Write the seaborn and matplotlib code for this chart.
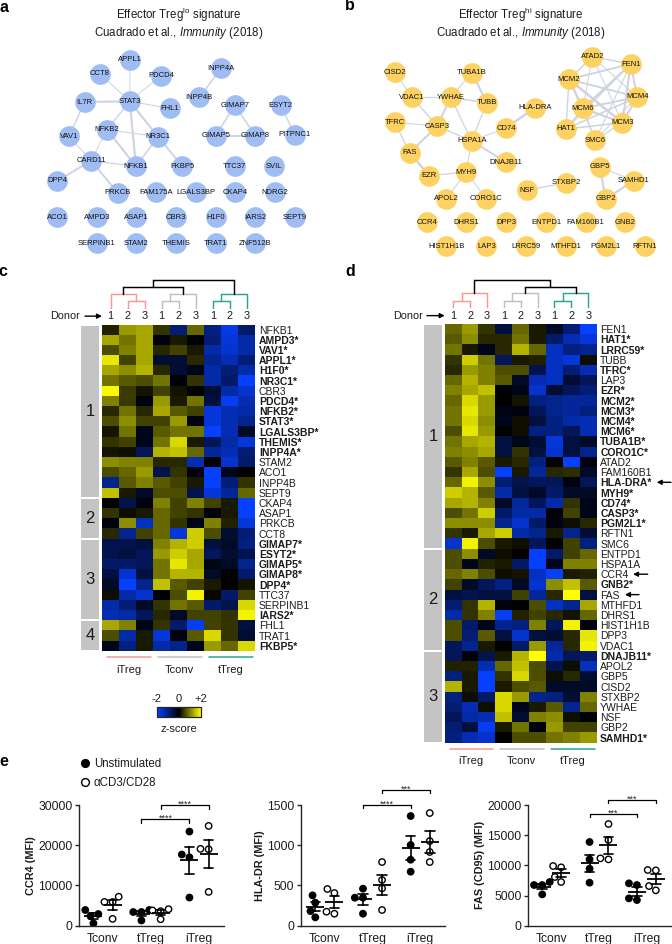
import numpy as np
import pandas as pd
import matplotlib
matplotlib.use("Agg")
import matplotlib.pyplot as plt
import seaborn as sns
from matplotlib.colors import LinearSegmentedColormap
from matplotlib.lines import Line2D

W, H = 672, 944

# panel a network
a_genes = ["APPL1", "CCT8", "PDCD4", "STAT3", "IL7R", "FHL1", "INPP4A", "INPP4B", "GIMAP7", "ESYT2",
           "VAV1", "NFKB2", "NR3C1", "GIMAP5", "GIMAP8", "PITPNC1", "CARD11", "NFKB1", "FKBP5", "TTC37",
           "SVIL", "DPP4", "PRKCB", "FAM175A", "LGALS3BP", "CKAP4", "NDRG2", "ACO1", "AMPD3", "ASAP1",
           "CBR3", "H1F0", "IARS2", "SEPT9", "SERPINB1", "STAM2", "THEMIS", "TRAT1", "ZNF512B"]
a_x = [130, 99.7, 161, 129.7, 84.7, 169.7, 221.3, 199.3, 234.7, 280.7,
       69, 107, 158, 215.7, 255.3, 294.7, 91, 136, 182.3, 234.7,
       274.3, 57.3, 117.7, 156, 195.7, 235.3, 275, 57.3, 96.7, 136.3,
       176, 215.7, 255.3, 295, 96.7, 136.3, 176, 215.7, 255.3]
a_y = [59.5, 73.7, 75.7, 101.3, 102, 108.3, 68.3, 97.3, 105.3, 105.3,
       136, 129.7, 136.7, 135.7, 135.7, 134.7, 160.7, 166.3, 166.3, 166.3,
       166.3, 181, 192.7, 192.3, 192.3, 192.3, 192.3, 217.3, 217.3, 217.3,
       217.3, 217.3, 217.3, 217.3, 243.3, 243.3, 243.3, 243.3, 243.3]
a_edges = [("STAT3", "APPL1", 1), ("STAT3", "CCT8", 1), ("STAT3", "PDCD4", 1), ("STAT3", "IL7R", 2),
           ("STAT3", "FHL1", 1), ("STAT3", "NFKB2", 1.3), ("STAT3", "NFKB1", 2), ("STAT3", "NR3C1", 2),
           ("IL7R", "VAV1", 1.3), ("VAV1", "CARD11", 1), ("NFKB2", "NFKB1", 2), ("NFKB2", "CARD11", 1),
           ("NFKB2", "NR3C1", 1), ("NR3C1", "NFKB1", 1.5), ("NR3C1", "FKBP5", 1.8), ("CARD11", "NFKB1", 1.2),
           ("CARD11", "DPP4", 1.8), ("CARD11", "PRKCB", 1.8), ("INPP4A", "INPP4B", 1.5), ("GIMAP7", "GIMAP5", 1.5),
           ("GIMAP7", "GIMAP8", 1.5), ("GIMAP5", "GIMAP8", 1.8), ("ESYT2", "PITPNC1", 1.3)]

# panel b network
b_genes = ["CISD2", "TUBA1B", "ATAD2", "FEN1", "MCM2", "VDAC1", "YWHAE", "TUBB", "HLA-DRA", "MCM4",
           "MCM6", "TFRC", "CASP3", "CD74", "HAT1", "MCM3", "HSPA1A", "SMC6", "FAS", "DNAJB11",
           "GBP5", "EZR", "MYH9", "SAMHD1", "NSF", "STXBP2", "GBP2", "APOL2", "CORO1C", "CCR4",
           "DHRS1", "DPP3", "ENTPD1", "FAM160B1", "GNB2", "HIST1H1B", "LAP3", "LRRC59", "MTHFD1", "PGM2L1",
           "RFTN1"]
b_x = [395, 472, 592.3, 630.7, 569, 412, 450.7, 486.7, 535, 637.3,
       583, 394.7, 437.3, 506, 566, 622.3, 471.7, 595.3, 409.7, 506,
       599.7, 429.3, 466.3, 633.7, 526.7, 566, 605.7, 446.3, 486.3, 426.7,
       466.3, 506, 546, 585.7, 625.3, 446.3, 486.3, 526, 565.7, 605.7,
       645]
b_y = [72, 72.7, 56.7, 64, 79.3, 97.3, 97.3, 102.7, 107.7, 97,
       108.3, 122.3, 126, 128, 129, 122.7, 141, 140, 152.7, 162,
       166.7, 175.7, 172, 180.7, 190, 183, 199, 199, 199, 222.3,
       222.3, 222.3, 222.3, 222.3, 222.3, 246.3, 246.3, 246.3, 246.3, 246.3,
       246.3]
b_edges = [("CISD2", "VDAC1", 1), ("VDAC1", "YWHAE", 1.2), ("VDAC1", "CASP3", 1.3), ("YWHAE", "TUBA1B", 1),
           ("YWHAE", "TUBB", 1.5), ("TUBA1B", "TUBB", 2), ("YWHAE", "CASP3", 2), ("YWHAE", "HSPA1A", 1.2),
           ("TUBB", "HSPA1A", 1.2), ("TFRC", "CASP3", 1), ("CASP3", "FAS", 2), ("CASP3", "HSPA1A", 1.3),
           ("HSPA1A", "CD74", 1), ("CD74", "HLA-DRA", 2.2), ("HSPA1A", "DNAJB11", 1.8), ("HSPA1A", "MYH9", 1),
           ("FAS", "EZR", 2.2), ("EZR", "MYH9", 1.2), ("MYH9", "APOL2", 1), ("MYH9", "CORO1C", 1),
           ("FAS", "TFRC", 1.2), ("NSF", "STXBP2", 1.3), ("GBP5", "GBP2", 2), ("GBP5", "SAMHD1", 1),
           ("GBP2", "SAMHD1", 2), ("MCM2", "FEN1", 1.8), ("MCM2", "ATAD2", 1.3), ("ATAD2", "FEN1", 1.3),
           ("MCM2", "MCM4", 1.8), ("MCM2", "MCM3", 2.4), ("MCM2", "MCM6", 2), ("MCM2", "HAT1", 1.3),
           ("MCM2", "SMC6", 1), ("FEN1", "MCM4", 1.8), ("FEN1", "MCM3", 2), ("FEN1", "MCM6", 2),
           ("FEN1", "HAT1", 1.3), ("ATAD2", "MCM4", 1), ("ATAD2", "MCM3", 1), ("ATAD2", "MCM6", 1),
           ("MCM4", "MCM3", 2), ("MCM4", "MCM6", 1.8), ("MCM4", "HAT1", 1.5), ("MCM3", "MCM6", 2),
           ("MCM3", "HAT1", 1.5), ("MCM3", "SMC6", 1.2), ("MCM6", "HAT1", 1.3), ("MCM6", "SMC6", 1),
           ("MCM4", "SMC6", 1), ("FEN1", "SMC6", 1)]

# panel c heatmap
c_rows = ["NFKB1", "AMPD3*", "VAV1*", "APPL1*", "H1F0*", "NR3C1*", "CBR3", "PDCD4*", "NFKB2*", "STAT3*",
          "LGALS3BP*", "THEMIS*", "INPP4A*", "STAM2", "ACO1", "INPP4B", "SEPT9", "CKAP4", "ASAP1", "PRKCB",
          "CCT8", "GIMAP7*", "ESYT2*", "GIMAP5*", "GIMAP8*", "DPP4*", "TTC37", "SERPINB1", "IARS2*", "FHL1",
          "TRAT1", "FKBP5*"]
c_z = [[.25, 1.2, 1.3, .4, -.9, .8, -1.0, -1.8, -.8],
       [1.3, .9, 1.3, -.1, .2, -.05, -.9, -1.7, -1.3],
       [.6, 1.0, 1.3, .3, .5, .2, -1.3, -1.6, -1.3],
       [1.8, .5, 1.3, -.4, -.4, .3, -1.1, -1.4, -.9],
       [1.3, 1.1, 1.4, .3, -.4, -.2, -1.3, -.9, -1.3],
       [.9, .7, .6, .9, -.05, .4, -1.3, -.8, -2.0],
       [1.95, .45, .15, .5, .15, 0, -.4, -1.3, -1.6],
       [1.0, .45, -.1, 1.2, .2, .9, -.5, -1.9, -1.4],
       [.3, .9, .3, 1.3, .7, .5, -1.7, -1.4, -1.3],
       [.6, 1.1, .5, .5, 1.2, -.1, -1.7, -1.4, -1.1],
       [.15, .9, -.2, .7, .9, .9, -2, -1.4, -.3],
       [.4, .5, -.2, .9, 1.7, .2, -.7, -1.3, -1.7],
       [.15, .1, -.7, 1.4, 1.5, .8, -1.2, -1.4, -.9],
       [1.1, 1, 1, .3, .3, -1.4, 0, -1.6, -.8],
       [.6, .8, 1.2, -.6, .4, -.1, -2, -.2, 0],
       [-1.1, .7, 1, .7, .5, .2, -2, -.9, .4],
       [1.5, .2, -.3, .6, .6, -.6, -1.7, -1.2, .8],
       [0, -.6, -.1, 1, .5, 1, .5, .2, -2],
       [.4, .1, .2, .8, .5, .4, -.1, .2, -2],
       [-.1, 1.1, -1.5, .8, .4, -.2, 1, .25, -1.7],
       [.3, -1.1, .5, .8, -1.7, 1.6, .6, -.4, -.9],
       [-.6, -.6, -.5, 1, 1.4, 1.6, -.5, -.3, -1],
       [-.6, -.5, -.7, 1.2, 1.6, 1.3, -.7, -.4, -.6],
       [-.8, -.8, -.7, .9, 1.8, 1.3, -.15, -.3, -1.1],
       [-.5, -1.6, -.5, .9, 1.4, 1.4, -.3, 0, -.8],
       [-.3, -2, -1.1, 1.5, .7, .5, .2, 0, .15],
       [.1, -1.3, -1.6, -.05, .6, 1.9, .05, -.8, .5],
       [-1.3, -.9, -.3, .4, .9, .7, -.8, -.6, 1.7],
       [-1.4, -1.3, -.7, .3, -.3, .5, .5, .4, 1.9],
       [1.3, 1, -.2, .4, -.8, -1.9, .5, .4, -.5],
       [.6, -1.3, .2, -1.7, -.1, .7, 1.7, .4, -.4],
       [-.2, -1, .2, -1.3, -1.1, -.2, 1.2, .8, 1.7]]
c_groups = [17, 4, 8, 3]
c_order = ["iTreg", "Tconv", "tTreg"]

# panel d heatmap
d_rows = ["FEN1", "HAT1*", "LRRC59*", "TUBB", "TFRC*", "LAP3", "EZR*", "MCM2*", "MCM3*", "MCM4*",
          "MCM6*", "TUBA1B*", "CORO1C*", "ATAD2", "FAM160B1", "HLA-DRA*", "MYH9*", "CD74*", "CASP3*", "PGM2L1*",
          "RFTN1", "SMC6", "ENTPD1", "HSPA1A", "CCR4", "GNB2*", "FAS", "MTHFD1", "DHRS1", "HIST1H1B",
          "DPP3", "VDAC1", "DNAJB11*", "APOL2", "GBP5", "CISD2", "STXBP2", "YWHAE", "NSF", "GBP2",
          "SAMHD1*"]
d_z = [[.8, 1.2, .4, -.5, .8, .2, -.3, -.9, -2],
       [.7, 1.1, .3, .3, .9, .2, -.8, -1.4, -1.7],
       [.9, .2, -.2, .3, 1.4, .8, -1.5, -1, -1.1],
       [.4, 1.6, .9, -.7, .2, .25, -1.5, -1.7, .1],
       [.3, 1.2, 1, .6, .6, -.6, -1.5, -.9, -1.4],
       [.8, 1.4, 1, .7, -.3, -1.4, -1.5, -.4, -.7],
       [1, 1.3, 1.5, -.05, -.2, -1.6, -.4, -.7, -.9],
       [.8, 1.7, 1.2, 0, .15, -1, -1.1, -1.2, -1.2],
       [.9, 1.8, 1.2, -.15, -.1, -.7, -1.1, -1.2, -1],
       [.9, 1.7, 1.1, -.2, .1, -.5, -1, -1.3, -1.4],
       [.6, 1.8, 1.2, 0, .1, -1, -1, -.7, -1.4],
       [.9, 1.3, 1.4, -.5, -.2, -.4, -1.7, -.5, -.3],
       [1, 1.1, 1.3, -.5, .4, -.5, -1.6, -.5, -1.1],
       [.7, 1, .7, .2, .3, -1, 0, -2, -.1],
       [.4, 1.3, .6, -2, .2, -1.2, .3, .35, -.3],
       [.8, 1.9, 1.1, -.9, -.6, -.7, -.7, -.1, -.7],
       [1.6, 1.4, .7, -1.3, -.5, -.3, -.8, -.3, -.3],
       [1.3, 1.4, 1, -.3, -1.2, -.7, -1.3, .4, -.2],
       [.6, .9, 1.6, -.8, -1.3, -1.3, -.05, .5, -.2],
       [1.1, 1.1, 1.1, -1.1, -1.6, -.8, -.1, .1, .3],
       [.4, .2, 1.3, 1.6, -1.3, -1.1, .2, -1.1, -.4],
       [-1.6, 1.9, .6, .2, .1, -.7, 0, .5, -1],
       [.6, 1.1, -.3, .1, 0, -2, -.8, .5, .8],
       [.6, -.2, .25, .2, -.8, -2, -.2, 1, 1],
       [.8, 1, .6, .1, .15, -1.5, -2, .2, .25],
       [.5, -.3, -.7, -1, -.3, -1.6, 1.1, 1.5, .7],
       [-.5, -.6, -.5, -.5, .5, -1.2, .3, 2, -.5],
       [-.9, .4, 1.4, -.1, 0, .6, -1.5, -1.1, 1.3],
       [-1.3, .4, 1, -1.9, .25, .5, .3, .15, .8],
       [.6, -.8, -.2, -1.1, -1, 1, -.7, 1.9, -.05],
       [.6, -.9, .7, -.5, -1.6, -.5, -.4, .3, 1.8],
       [-.7, -1.1, .2, 0, -.8, 1.2, -1.2, .3, 1.9],
       [-.7, -.05, -.6, .2, 1.4, 2, -1.3, -.7, -.8],
       [.25, .25, -1.4, .8, 1.5, .6, -.6, .1, -1.5],
       [-1, .2, -2, .4, 1.7, .6, .1, .3, -.4],
       [1.4, .2, -2, .2, .6, .7, -.3, -.3, -.3],
       [-1, .1, -.8, 1.7, 1.2, -1.1, -1, -.4, 1],
       [-.9, -1.4, .1, 1.7, -.2, .2, .7, -1.1, .8],
       [-.7, -1.3, -1.4, 1.5, -.4, 1, 1.1, .1, -.05],
       [-.9, -.5, -1.9, .2, .9, -.1, 1.2, .5, .5],
       [-1, -1.4, -1.6, 0, .6, .6, .9, 1, 1.2]]
d_groups = [22, 10, 9]

# panel e, four donors per group, order Tconv / tTreg / iTreg, unstimulated then stimulated
cells = ["Tconv", "tTreg", "iTreg"]
stims = ["Unstimulated", "αCD3/CD28"]
ccr4 = [[2900, 3900, 2400, 600], [7200, 5900, 5900, 1700],
        [3900, 3400, 3400, 1300], [4100, 3600, 3800, 1600],
        [23400, 17700, 17000, 7000], [24800, 19100, 19000, 8400]]
hladr = [[377, 286, 182, 104], [456, 406, 174, 149],
         [460, 348, 348, 149], [791, 568, 464, 195],
         [1363, 1003, 820, 671], [1400, 1052, 916, 791]]
fas = [[7240, 6740, 6740, 5190], [9670, 9890, 8070, 7240],
       [13870, 10990, 9450, 7130], [16850, 14200, 11160, 10990],
       [6740, 7020, 4530, 4250], [9170, 9230, 6570, 5860]]

sns.set_style("ticks")
plt.rcParams["font.family"] = ["Liberation Sans", "DejaVu Sans"]
plt.rcParams["mathtext.fontset"] = "custom"
plt.rcParams["mathtext.rm"] = "Liberation Sans"
plt.rcParams["mathtext.it"] = "Liberation Sans:italic"

BLUE_NODE = "#9fbdf3"
YELLOW_NODE = "#fdd262"
EDGE = "#ced3e1"
RED = "#f59a92"
GREY = "#bfbfbf"
GREEN = "#2ba58f"
TXT = "#1c1c1c"
z_cmap = LinearSegmentedColormap.from_list("by", ["#0540ff", "#000000", "#ffff00"])


def px_axes(fig, left, top, right, bottom):
    return fig.add_axes([left / W, 1 - bottom / H, (right - left) / W, (bottom - top) / H])


def draw_network(ax, genes, xs, ys, edges, color):
    nodes = pd.DataFrame({"gene": genes, "x": xs, "y": ys})
    pos = nodes.set_index("gene")
    for g1, g2, lw in edges:
        ax.plot([pos.x[g1], pos.x[g2]], [pos.y[g1], pos.y[g2]], color=EDGE, lw=lw * 0.75, zorder=1)
    sns.scatterplot(data=nodes, x="x", y="y", ax=ax, color=color, s=222, linewidth=0, zorder=2, legend=False)
    for _, row in nodes.iterrows():
        ax.text(row.x, row.y, row.gene, fontsize=5.5, ha="center", va="center", color="#111111", zorder=3)


def draw_tree(ax, node, base=-1.62):
    # node is a leaf column or (left, right, height, colour)
    if isinstance(node, int):
        return node + 0.5, base
    left, right, height, col = node
    x1, y1 = draw_tree(ax, left, base)
    x2, y2 = draw_tree(ax, right, base)
    ax.plot([x1, x1, x2, x2], [y1, height, height, y2], color=col, lw=1.05, clip_on=False,
            solid_joinstyle="miter", zorder=4)
    return (x1 + x2) / 2, height


def draw_heatmap(fig, box, rows, values, groups, tree, order, under_y, donor_x):
    ax = px_axes(fig, *box)
    table = pd.DataFrame(values, index=rows)
    sns.heatmap(table, ax=ax, cmap=z_cmap, vmin=-2, vmax=2, cbar=False, xticklabels=False, yticklabels=True)
    ax.yaxis.tick_right()
    ax.tick_params(axis="y", length=0, pad=2.5)
    ax.set_xlabel("")
    ax.set_ylabel("")
    for lab in ax.get_yticklabels():
        lab.set_rotation(0)
        lab.set_fontsize(7.45)
        lab.set_color(TXT)
        if lab.get_text().endswith("*"):
            lab.set_fontweight("bold")
    draw_tree(ax, tree)
    for i, num in enumerate([1, 2, 3] * 3):
        ax.text(i + 0.5, -0.82, str(num), ha="center", va="center", fontsize=7.8, color=TXT)
    # grey cluster blocks left of the cells
    start = 0
    for i, size in enumerate(groups):
        ax.bar(-0.69, size - 0.22, width=1.08, bottom=start + 0.11, color="#c4c4c4", clip_on=False, linewidth=0)
        ax.text(-0.69, start + size / 2, str(i + 1), ha="center", va="center", fontsize=12, color=TXT)
        start += size
    # cell type strips under the heatmap
    for i, (name, col) in enumerate(zip(order, [RED, GREY, GREEN])):
        ax.plot([3 * i + 0.3, 3 * i + 2.88], [under_y, under_y], color=col, lw=1.1, clip_on=False)
        ax.text(3 * i + 1.55, under_y + 1.2, name, ha="center", va="center", fontsize=8, color=TXT)
    # Donor label with arrow
    ax.text(donor_x[0], -0.82, "Donor", ha="left", va="center", fontsize=7.8, color=TXT)
    ax.annotate("", xy=(0, -0.82), xytext=(donor_x[1], -0.82), annotation_clip=False,
                arrowprops=dict(arrowstyle="-|>,head_length=0.28,head_width=0.14", color="black", lw=1,
                                shrinkA=0, shrinkB=0))
    return ax


def draw_dots(fig, box, values, ylabel, ymax, yticks, brackets, stars):
    ax = px_axes(fig, *box)
    rows = []
    for i, vals in enumerate(values):
        for v in vals:
            rows.append({"cell": cells[i // 2], "stim": stims[i % 2], "mfi": v})
    df = pd.DataFrame(rows)
    sns.swarmplot(data=df, x="cell", y="mfi", hue="stim", order=cells, hue_order=stims, dodge=True,
                  palette={stims[0]: "black", stims[1]: "white"}, size=4.6, linewidth=1, edgecolor="black",
                  ax=ax, legend=False, zorder=3, warn_thresh=1)
    sns.pointplot(data=df, x="cell", y="mfi", hue="stim", order=cells, hue_order=stims, dodge=0.4,
                  palette={stims[0]: "black", stims[1]: "black"}, errorbar="se", capsize=0.2, linestyle="none",
                  marker="_", markersize=13, markeredgewidth=1.3, err_kws={"linewidth": 1.2}, ax=ax, legend=False,
                  zorder=4)
    ax.set_xlim(-0.5, 2.52)
    ax.set_ylim(0, ymax)
    ax.set_yticks(yticks)
    ax.set_xlabel("")
    ax.set_ylabel(ylabel, fontsize=7.8, fontweight="bold", labelpad=1.5, color=TXT)
    ax.tick_params(axis="y", length=3.2, width=1, labelsize=8.7, pad=1.5, labelcolor=TXT)
    ax.tick_params(axis="x", length=0, labelsize=8.7, pad=5, labelcolor=TXT)
    sns.despine(ax=ax)
    for s in ["left", "bottom"]:
        ax.spines[s].set_linewidth(1)
    # comparison brackets, unstim with unstim and stim with stim
    for x1, x2, y, label in zip(*brackets, stars):
        drop = ymax * 0.026
        ax.plot([x1, x1, x2, x2], [y - drop, y, y, y - drop], color="black", lw=0.9, clip_on=False, zorder=5)
        ax.text((x1 + x2) / 2, y + ymax * 0.007, label, ha="center", va="center", fontsize=6.5, clip_on=False)
    return ax


fig = plt.figure(figsize=(W / 100, H / 100), dpi=100, facecolor="white")

bg = fig.add_axes([0, 0, 1, 1])
bg.set_xlim(0, W)
bg.set_ylim(H, 0)
bg.axis("off")

draw_network(bg, a_genes, a_x, a_y, a_edges, BLUE_NODE)
draw_network(bg, b_genes, b_x, b_y, b_edges, YELLOW_NODE)
bg.set_xlim(0, W)
bg.set_ylim(H, 0)
bg.set_xlabel("")
bg.set_ylabel("")

for cx, sup in [(179, "lo"), (520.5, "hi")]:
    bg.text(cx, 15, "Effector Treg$^{\\mathrm{%s}}$ signature" % sup, ha="center", va="center", fontsize=8.3, color=TXT)
    bg.text(cx, 33, "Cuadrado et al., $\\mathit{Immunity}$ (2018)", ha="center", va="center", fontsize=8.3, color=TXT)
for lx, ly, letter in [(4, 7, "a"), (350, 6, "b"), (3, 272, "c"), (350, 272, "d"), (4, 761, "e")]:
    bg.text(lx, ly, letter, ha="center", va="center", fontsize=11.5, fontweight="bold", color="black")

h1, h2, h3, h4 = -2.3, -3.0, -3.65, -4.33
red_c = (0, (1, 2, h1, RED), h2, RED)
grey_c = ((3, 4, h1, GREY), 5, h2, GREY)
green_c = ((6, 7, h1, GREEN), 8, h2, GREEN)
tree_c = ((red_c, grey_c, h3, "black"), green_c, h4, "black")
red_d = ((0, 1, h1, RED), 2, h2, RED)
tree_d = (red_d, (grey_c, green_c, h3, "black"), h4, "black")

ax_c = draw_heatmap(fig, (102, 324.5, 255.5, 650.8), c_rows, c_z, c_groups, tree_c, c_order, 32.65, (-3.02, -1.0))
ax_d = draw_heatmap(fig, (444.7, 324, 596.7, 742.7), d_rows, d_z, d_groups, tree_d, c_order, 41.6, (-3.06, -1.05))

# gene markers on panel d
for gene, x_from, x_to in [("HLA-DRA*", 671, 656.7), ("CCR4", 647.7, 633), ("FAS", 639, 625)]:
    y_mid = 324 + (d_rows.index(gene) + 0.5) * (418.7 / len(d_rows))
    bg.annotate("", xy=(x_to, y_mid), xytext=(x_from, y_mid),
                arrowprops=dict(arrowstyle="-|>,head_length=0.28,head_width=0.14", color="black", lw=1,
                                shrinkA=0, shrinkB=0))

# colour key uses the same mapping as the heatmap
cax = px_axes(fig, 157, 707, 201, 717.3)
fig.colorbar(ax_c.collections[0], cax=cax, orientation="horizontal", ticks=[])
cax.tick_params(length=0)
cax.spines["outline"].set_linewidth(0.9)
for px, lab in [(156, "-2"), (179, "0"), (200.5, "+2")]:
    bg.text(px, 698.7, lab, ha="center", va="center", fontsize=8, color=TXT)
bg.text(179, 728.5, "z-score", ha="center", va="center", fontsize=8, color=TXT)

# brackets: left x, right x, height
draw_dots(fig, (79, 805, 224, 925.7), ccr4, "CCR4 (MFI)", 30000, [0, 10000, 20000, 30000],
          ([0.8, 1.2], [1.8, 2.2], [26400, 29900]), ["****", "****"])
draw_dots(fig, (301, 805, 445, 925.7), hladr, "HLA-DR (MFI)", 1500, [0, 500, 1000, 1500],
          ([0.8, 1.2], [1.8, 2.2], [1504, 1682]), ["****", "***"])
draw_dots(fig, (528, 805, 671, 925.7), fas, "FAS (CD95) (MFI)", 20000, [0, 5000, 10000, 15000, 20000],
          ([0.8, 1.2], [1.8, 2.2], [18560, 20880]), ["***", "***"])

handles = [Line2D([], [], marker="o", ls="none", mfc="black", mec="black", ms=5.6, mew=1),
           Line2D([], [], marker="o", ls="none", mfc="white", mec="black", ms=5.6, mew=1)]
fig.legend(handles, stims, loc="upper left", bbox_to_anchor=(80.4 / W, 1 - 758 / H), frameon=False, fontsize=8.3,
           handlelength=0.8, handletextpad=0.35, labelspacing=0.62, borderpad=0, borderaxespad=0, labelcolor=TXT)

fig.savefig("out.png", dpi=100, facecolor="white")
